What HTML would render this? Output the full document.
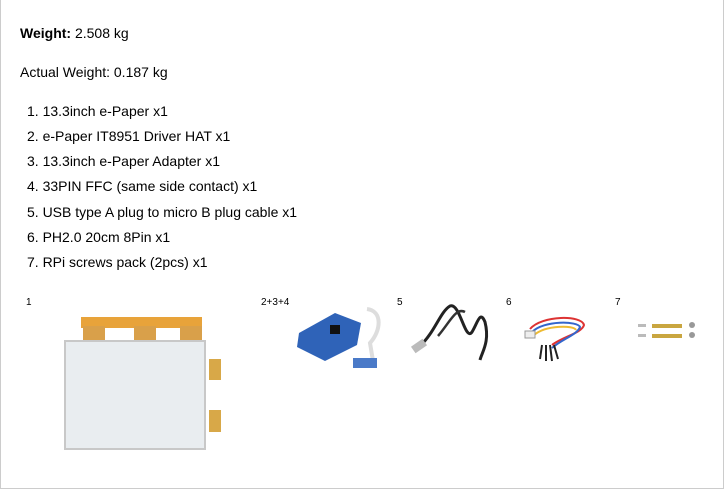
<!DOCTYPE html>
<html><head><style>
body{margin:0;width:724px;height:489px;background:#fff;font-family:"Liberation Sans",Arial,sans-serif;color:#000;position:relative;overflow:hidden}
.frame{position:absolute;left:0;top:-2px;width:724px;height:491px;border:1px solid #ccc;box-sizing:border-box}
.t{position:absolute;font-size:14px;line-height:16px;white-space:nowrap}
.s{position:absolute;font-size:10px;line-height:12px}
.a{position:absolute}
</style></head><body>
<div class="frame"></div>
<div class="t" style="left:20px;top:25px"><b>Weight:</b> 2.508 kg</div>
<div class="t" style="left:20px;top:64px">Actual Weight: 0.187 kg</div>
<div class="t" style="left:27px;top:103px">1. 13.3inch e-Paper x1</div>
<div class="t" style="left:27px;top:128px">2. e-Paper IT8951 Driver HAT x1</div>
<div class="t" style="left:27px;top:153px">3. 13.3inch e-Paper Adapter x1</div>
<div class="t" style="left:27px;top:178px">4. 33PIN FFC (same side contact) x1</div>
<div class="t" style="left:27px;top:204px">5. USB type A plug to micro B plug cable x1</div>
<div class="t" style="left:27px;top:229px">6. PH2.0 20cm 8Pin x1</div>
<div class="t" style="left:27px;top:254px">7. RPi screws pack (2pcs) x1</div>

<div class="s" style="left:26px;top:297px">1</div>
<div class="s" style="left:261px;top:297px">2+3+4</div>
<div class="s" style="left:397px;top:297px">5</div>
<div class="s" style="left:506px;top:297px">6</div>
<div class="s" style="left:615px;top:297px">7</div>

<!-- e-paper -->
<div class="a" style="left:81px;top:317px;width:121px;height:11px;background:#e8a33a"></div>
<div class="a" style="left:83px;top:326px;width:22px;height:14px;background:#d9a04a"></div>
<div class="a" style="left:134px;top:326px;width:22px;height:14px;background:#d9a04a"></div>
<div class="a" style="left:180px;top:326px;width:22px;height:14px;background:#d9a04a"></div>
<div class="a" style="left:64px;top:340px;width:142px;height:110px;background:#e9edf0;border:2px solid #c8c8c8;box-sizing:border-box"></div>
<div class="a" style="left:209px;top:359px;width:12px;height:21px;background:#d8a848"></div>
<div class="a" style="left:209px;top:410px;width:12px;height:22px;background:#d8a848"></div>

<!-- HAT board -->
<svg class="a" style="left:295px;top:303px" width="90" height="65">
<path d="M72 6 C88 8 86 28 75 40 L78 58" stroke="#ddd" stroke-width="4" fill="none"/>
<polygon points="4,30 40,10 66,20 62,42 30,58 2,44" fill="#2f63b8"/>
<rect x="35" y="22" width="10" height="9" fill="#111"/>
<rect x="58" y="55" width="24" height="10" fill="#4a7ac8"/>
</svg>

<!-- USB cable -->
<svg class="a" style="left:410px;top:302px" width="85" height="62">
<path d="M10 44 C25 30 30 10 40 4 C50 0 55 40 62 30 C68 20 70 8 75 20 C80 40 72 50 70 58" stroke="#222" stroke-width="3" fill="none"/>
<path d="M28 34 C40 20 46 5 55 10" stroke="#333" stroke-width="2.5" fill="none"/>
<rect x="2" y="40" width="14" height="8" fill="#bbb" transform="rotate(-35 9 44)"/>
</svg>

<!-- PH2.0 -->
<svg class="a" style="left:522px;top:315px" width="65" height="48">
<path d="M8 14 C20 0 60 0 62 10 C60 18 40 22 30 30" stroke="#d33" stroke-width="2" fill="none"/>
<path d="M10 17 C22 5 56 6 58 12 C55 20 40 24 30 33" stroke="#36c" stroke-width="2" fill="none"/>
<path d="M12 20 C24 10 52 10 54 15" stroke="#eb3" stroke-width="2" fill="none"/>
<rect x="3" y="16" width="10" height="7" fill="#eee" stroke="#999"/>
<path d="M20 30 L18 44 M24 30 L24 46 M28 30 L30 46 M32 30 L36 44" stroke="#222" stroke-width="2"/>
</svg>

<!-- screws -->
<div class="a" style="left:652px;top:324px;width:30px;height:4px;background:#c9a640"></div>
<div class="a" style="left:652px;top:334px;width:30px;height:4px;background:#c9a640"></div>
<div class="a" style="left:638px;top:324px;width:8px;height:3px;background:#bbb"></div>
<div class="a" style="left:638px;top:334px;width:8px;height:3px;background:#bbb"></div>
<div class="a" style="left:689px;top:322px;width:6px;height:6px;border-radius:50%;background:#999"></div>
<div class="a" style="left:689px;top:332px;width:6px;height:6px;border-radius:50%;background:#999"></div>
</body></html>
